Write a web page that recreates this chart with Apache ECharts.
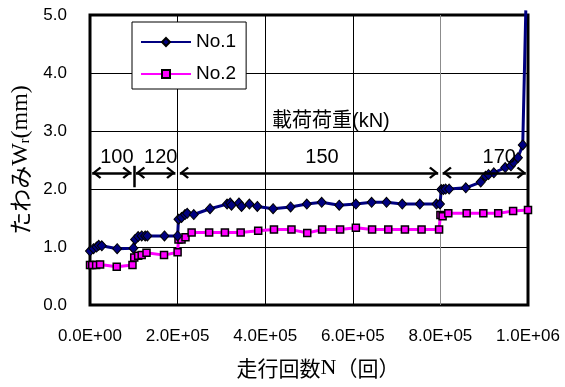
<!DOCTYPE html>
<html>
<head>
<meta charset="utf-8">
<script src="https://cdn.jsdelivr.net/npm/echarts@6/dist/echarts.min.js"></script>
<style>
  html, body { margin: 0; padding: 0; background: #fff; }
  #chart { width: 565px; height: 387px; }
</style>
</head>
<body>
<div id="chart"></div>
<script>
// Number of load cycles N and deflection Wr (mm) for specimen No.1
const cyclesNo1 = [0, 8000, 15000, 20000, 27000, 62000, 99000, 103000, 110000, 118000, 126000, 131000,
  170000, 200000, 202000, 209000, 217000, 222000, 237000, 274000, 313000, 320000, 323000, 340000,
  346000, 364000, 382000, 418000, 458000, 495000, 529000, 569000, 607000, 643000, 677000, 713000,
  753000, 791000, 799000, 802000, 807000, 812000, 820000, 858000, 892000, 903000, 910000, 922000,
  948000, 961000, 967000, 977000, 988000, 995000];
const deflectionNo1 = [0.93, 0.97, 1.00, 1.03, 1.02, 0.97, 0.98, 1.13, 1.18, 1.19, 1.19, 1.19,
  1.19, 1.19, 1.48, 1.51, 1.56, 1.58, 1.56, 1.66, 1.74, 1.76, 1.72, 1.76,
  1.70, 1.74, 1.70, 1.66, 1.69, 1.74, 1.77, 1.72, 1.74, 1.77, 1.77, 1.74,
  1.74, 1.74, 1.74, 1.99, 1.99, 2.00, 2.00, 2.02, 2.12, 2.22, 2.25, 2.28,
  2.37, 2.40, 2.46, 2.54, 2.76, 5.08];

// Number of load cycles N and deflection Wr (mm) for specimen No.2
const cyclesNo2 = [0, 5000, 14000, 23000, 61000, 97000, 101000, 110000, 118000, 129000, 169000,
  200000, 202000, 209000, 218000, 232000, 272000, 308000, 344000, 384000, 420000, 460000, 496000,
  530000, 571000, 607000, 644000, 681000, 719000, 757000, 797000, 800000, 805000, 818000, 860000,
  898000, 932000, 966000, 1000000];
const deflectionNo2 = [0.69, 0.69, 0.69, 0.70, 0.66, 0.69, 0.82, 0.85, 0.86, 0.90, 0.86,
  0.91, 1.13, 1.13, 1.17, 1.25, 1.25, 1.25, 1.25, 1.28, 1.30, 1.30, 1.24,
  1.30, 1.30, 1.33, 1.30, 1.30, 1.30, 1.30, 1.30, 1.55, 1.53, 1.58, 1.58,
  1.58, 1.58, 1.62, 1.64];

// Load steps (kN) and the cycle counts where each step starts / ends
const loadSteps = [100, 120, 150, 170];
const stepBounds = [0, 100000, 200000, 800000, 1000000];

// Axis ranges
const xMin = 0, xMax = 1000000, xStep = 200000;
const yMin = 0, yMax = 5, yStep = 1;

// Annotation layout (data units / pixel shifts)
const arrowLevel = 2.28;
const stepLabelLevel = 2.55;
const stepLabelShift = [5, 5, 13, 15];
const stepTick = [2.03, 2.40];
const arrowGap = 5000;
const loadTitleAt = [550000, 3.17];

const SANS = '"Liberation Sans", Arial, sans-serif';
const SERIF = '"Liberation Serif", "Times New Roman", serif';
const CJK = '"Noto Sans CJK JP", sans-serif';

function sciLabel(v) {
  if (v === 0) return '0.0E+00';
  const e = Math.floor(Math.log10(v) + 1e-9);
  const m = v / Math.pow(10, e);
  return m.toFixed(1) + 'E+' + String(e).padStart(2, '0');
}

const pairs = (xs, ys) => xs.map((x, i) => [x, ys[i]]);

// Open chevron, tip centred in its box so it lands on the line end
const chevron = 'path://M6,0L6,0Z M6,12L12.5,19.5L10.8,21.2L6,15.4L1.2,21.2L-0.5,19.5Z M6,24L6,24Z';

const arrowLines = [];
for (let i = 0; i < loadSteps.length; i++) {
  arrowLines.push([
    { coord: [stepBounds[i] + arrowGap, arrowLevel] },
    { coord: [stepBounds[i + 1] - arrowGap, arrowLevel] }
  ]);
}
arrowLines.push([
  { coord: [stepBounds[1], stepTick[0]], symbol: 'none' },
  { coord: [stepBounds[1], stepTick[1]], symbol: 'none' }
]);

const textMarks = loadSteps.map((s, i) => ({
  coord: [(stepBounds[i] + stepBounds[i + 1]) / 2, stepLabelLevel],
  value: String(s),
  label: { offset: [stepLabelShift[i], 0] }
}));
textMarks.push({
  coord: loadTitleAt,
  value: '載荷荷重(kN)',
  label: { fontFamily: SANS + ', ' + CJK }
});

const no1Data = pairs(cyclesNo1, deflectionNo1).map((p, i, a) =>
  i === a.length - 1 ? { value: p, symbol: 'none' } : p);

const chart = echarts.init(document.getElementById('chart'), null, { renderer: 'canvas' });
chart.setOption({
  animation: false,
  backgroundColor: '#fff',
  grid: {
    left: 90, top: 15, width: 438, height: 290,
    show: true, borderColor: '#000', borderWidth: 3, backgroundColor: 'transparent'
  },
  legend: {
    data: ['No.1', 'No.2'],
    orient: 'vertical',
    left: 132, top: 22,
    backgroundColor: '#fff',
    borderColor: '#000', borderWidth: 1, borderRadius: 0,
    padding: [10, 10, 5, 8],
    itemWidth: 50, itemHeight: 10, itemGap: 12,
    textStyle: { fontFamily: SANS, fontSize: 19, color: '#000', lineHeight: 20 }
  },
  xAxis: {
    type: 'value', min: xMin, max: xMax, interval: xStep,
    name: '{a|走行回数}{b|N}{a|（回）}',
    nameLocation: 'middle', nameGap: 52,
    nameTextStyle: {
      padding: [0, 0, 0, 18],
      rich: {
        a: { fontFamily: CJK, fontSize: 21, color: '#000' },
        b: { fontFamily: SERIF, fontSize: 22, color: '#000' }
      }
    },
    axisLine: { show: false },
    axisTick: { show: false },
    axisLabel: { formatter: sciLabel, fontFamily: SANS, fontSize: 17, color: '#000', margin: 23 },
    splitLine: { show: true, lineStyle: { color: ['#000', '#000', '#000', '#000', '#8c8c8c', '#000'], width: 1 } }
  },
  yAxis: {
    type: 'value', min: yMin, max: yMax, interval: yStep,
    name: '{a|たわみ}{b|W}{c|r}{b|(mm)}',
    nameLocation: 'middle', nameGap: 55,
    nameTextStyle: {
      rich: {
        a: { fontFamily: CJK, fontSize: 23, color: '#000' },
        b: { fontFamily: SERIF, fontSize: 24, color: '#000' },
        c: { fontFamily: SERIF, fontSize: 14, color: '#000', verticalAlign: 'bottom' }
      }
    },
    axisLine: { show: false },
    axisTick: { show: false },
    axisLabel: { formatter: v => v.toFixed(1), fontFamily: SANS, fontSize: 17, color: '#000', margin: 23 },
    splitLine: { show: true, lineStyle: { color: '#000', width: 1 } }
  },
  series: [
    {
      name: 'No.1', type: 'line', data: no1Data, clip: false,
      symbol: 'diamond', symbolSize: [9, 10],
      lineStyle: { color: '#000080', width: 3 },
      itemStyle: { color: '#000080', borderColor: '#000', borderWidth: 1 },
      z: 4
    },
    {
      name: 'No.2', type: 'line', data: pairs(cyclesNo2, deflectionNo2),
      symbol: 'rect', symbolSize: 7,
      lineStyle: { color: '#ff00ff', width: 3 },
      itemStyle: { color: '#ff00ff', borderColor: '#000', borderWidth: 1.5 },
      z: 3
    },
    {
      name: 'loadSteps', type: 'line', data: [], silent: true, z: 5,
      markLine: {
        silent: true, animation: false,
        symbol: [chevron, chevron], symbolSize: [12, 24],
        lineStyle: { color: '#000', width: 2.5, type: 'solid' },
        label: { show: false },
        data: arrowLines
      },
      markPoint: {
        silent: true, animation: false,
        symbol: 'circle', symbolSize: 1,
        itemStyle: { color: 'transparent' },
        label: {
          show: true, position: 'inside', color: '#000',
          fontFamily: SANS, fontSize: 20,
          formatter: p => p.value
        },
        data: textMarks
      }
    }
  ]
});
</script>
</body>
</html>
